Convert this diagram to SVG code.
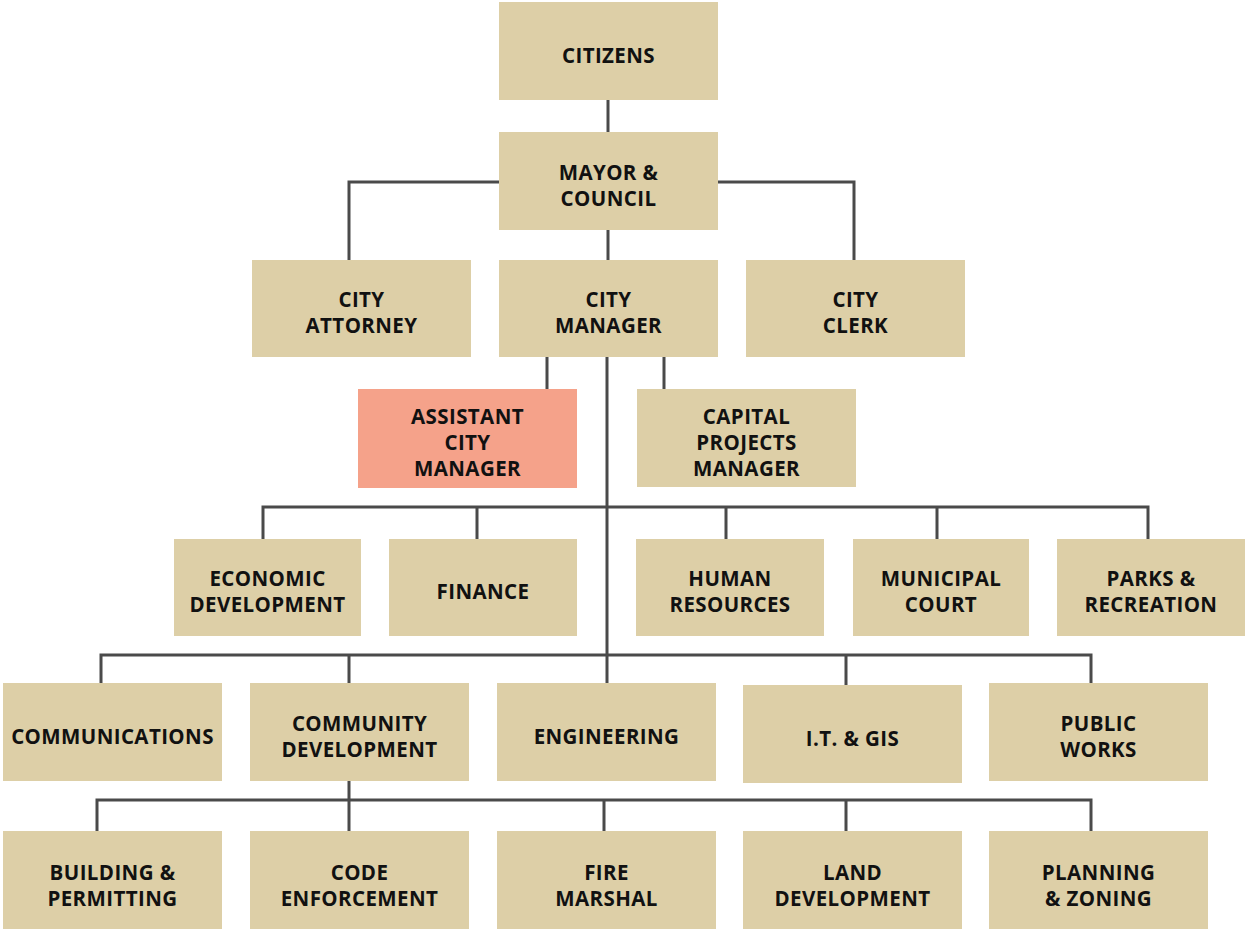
<svg xmlns="http://www.w3.org/2000/svg" width="1245" height="929" viewBox="0 0 1245 929">
<style>
.b{fill:#DDCFA7}
.s{fill:#F5A28A}
text{font-family:"Open Sans","Liberation Sans",sans-serif;font-weight:700;font-size:20.5px;letter-spacing:0.4px;fill:#111;text-anchor:middle}
.c{fill:none;stroke:#4A4A4A;stroke-width:3}
</style>
<rect width="1245" height="929" fill="#fff"/>
<g id="connectors">
<path class="c" d="M608 100V132"/>
<path class="c" d="M499 182H349V260M718 182H854V260"/>
<path class="c" d="M608 230V260"/>
<path class="c" d="M607 357V683"/>
<path class="c" d="M547 357V389M664 357V389"/>
<path class="c" d="M263 539V507H1148V539M477 507V539M726 507V539M937 507V539"/>
<path class="c" d="M101 683V655H1091V683M349 655V683M846 655V685"/>
<path class="c" d="M349 781V831M97 831V800H1091V831M604 800V831M846 800V831"/>
</g>
<g id="citizens"><rect class="b" x="499" y="2" width="219" height="98"/><text x="608.5" y="63">CITIZENS</text></g>
<g id="mayor"><rect class="b" x="499" y="132" width="219" height="98"/><text x="608.5" y="180">MAYOR &amp;</text><text x="608.5" y="205.5">COUNCIL</text></g>
<g id="attorney"><rect class="b" x="252" y="260" width="219" height="97"/><text x="361.5" y="307">CITY</text><text x="361.5" y="333">ATTORNEY</text></g>
<g id="manager"><rect class="b" x="499" y="260" width="219" height="97"/><text x="608.5" y="307">CITY</text><text x="608.5" y="333">MANAGER</text></g>
<g id="clerk"><rect class="b" x="746" y="260" width="219" height="97"/><text x="855.5" y="307">CITY</text><text x="855.5" y="333">CLERK</text></g>
<g id="assistant"><rect class="s" x="358" y="389" width="219" height="99"/><text x="467.5" y="423.5">ASSISTANT</text><text x="467.5" y="449.5">CITY</text><text x="467.5" y="475.5">MANAGER</text></g>
<g id="capital"><rect class="b" x="637" y="389" width="219" height="98"/><text x="746.5" y="423.5">CAPITAL</text><text x="746.5" y="449.5">PROJECTS</text><text x="746.5" y="475.5">MANAGER</text></g>
<g id="econ"><rect class="b" x="174" y="539" width="187" height="97"/><text x="267.5" y="585.5">ECONOMIC</text><text x="267.5" y="611.5">DEVELOPMENT</text></g>
<g id="finance"><rect class="b" x="389" y="539" width="188" height="97"/><text x="483" y="599">FINANCE</text></g>
<g id="hr"><rect class="b" x="636" y="539" width="188" height="97"/><text x="730" y="585.5">HUMAN</text><text x="730" y="611.5">RESOURCES</text></g>
<g id="court"><rect class="b" x="853" y="539" width="176" height="97"/><text x="941" y="585.5">MUNICIPAL</text><text x="941" y="611.5">COURT</text></g>
<g id="parks"><rect class="b" x="1057" y="539" width="188" height="97"/><text x="1151" y="585.5">PARKS &amp;</text><text x="1151" y="611.5">RECREATION</text></g>
<g id="comms"><rect class="b" x="3" y="683" width="219" height="98"/><text x="112.5" y="743.5">COMMUNICATIONS</text></g>
<g id="commdev"><rect class="b" x="250" y="683" width="219" height="98"/><text x="359.5" y="730.5">COMMUNITY</text><text x="359.5" y="756.5">DEVELOPMENT</text></g>
<g id="eng"><rect class="b" x="497" y="683" width="219" height="98"/><text x="606.5" y="743.5">ENGINEERING</text></g>
<g id="it"><rect class="b" x="743" y="685" width="219" height="98"/><text x="852.5" y="745.5">I.T. &amp; GIS</text></g>
<g id="pw"><rect class="b" x="989" y="683" width="219" height="98"/><text x="1098.5" y="730.5">PUBLIC</text><text x="1098.5" y="756.5">WORKS</text></g>
<g id="building"><rect class="b" x="3" y="831" width="219" height="98"/><text x="112.5" y="879.5">BUILDING &amp;</text><text x="112.5" y="905.5">PERMITTING</text></g>
<g id="code"><rect class="b" x="250" y="831" width="219" height="98"/><text x="359.5" y="879.5">CODE</text><text x="359.5" y="905.5">ENFORCEMENT</text></g>
<g id="fire"><rect class="b" x="497" y="831" width="219" height="98"/><text x="606.5" y="879.5">FIRE</text><text x="606.5" y="905.5">MARSHAL</text></g>
<g id="land"><rect class="b" x="743" y="831" width="219" height="98"/><text x="852.5" y="879.5">LAND</text><text x="852.5" y="905.5">DEVELOPMENT</text></g>
<g id="planning"><rect class="b" x="989" y="831" width="219" height="98"/><text x="1098.5" y="879.5">PLANNING</text><text x="1098.5" y="905.5">&amp; ZONING</text></g>
</svg>
